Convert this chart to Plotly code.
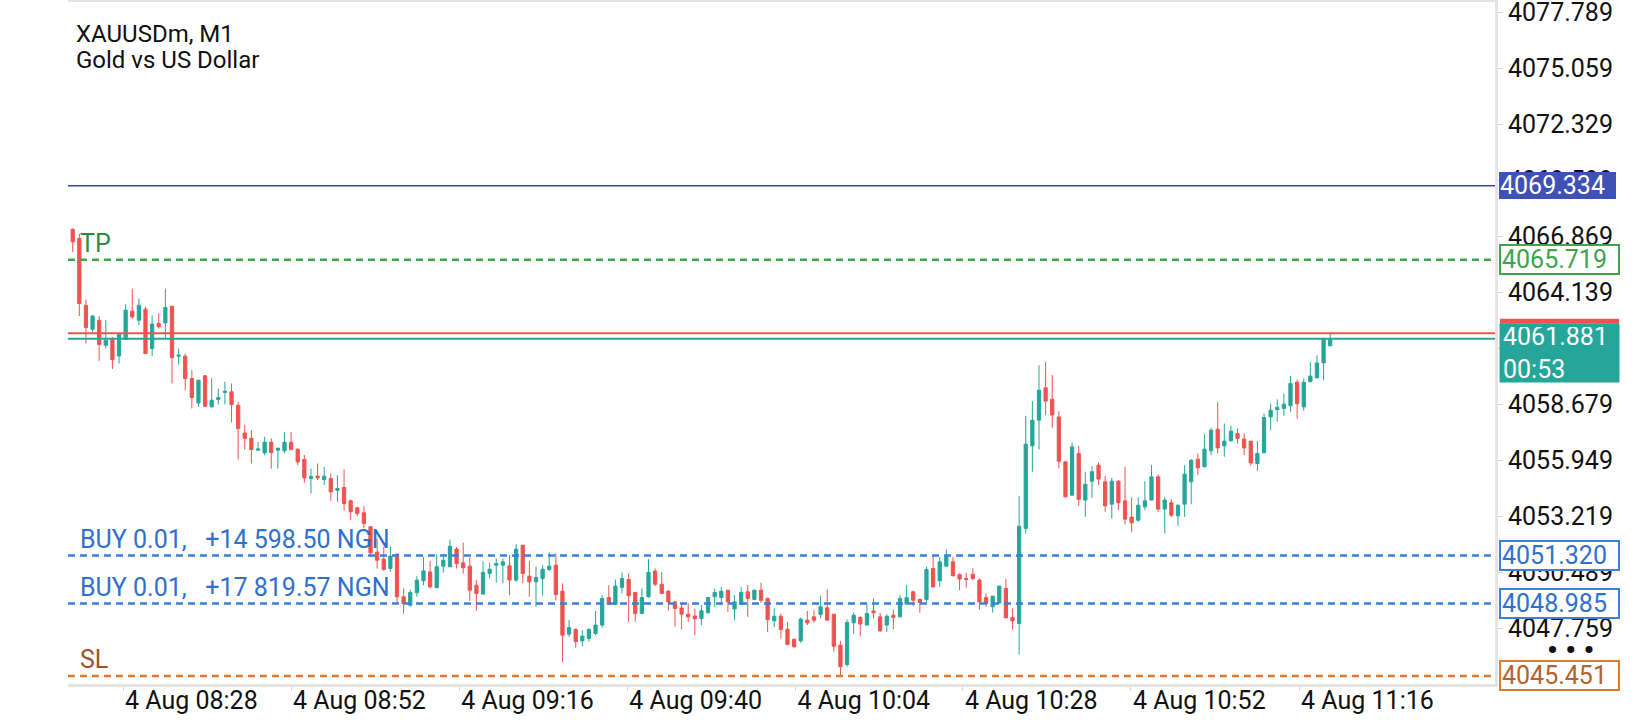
import plotly.graph_objects as go

# XAUUSDm M1 candles (bar index 0 = first visible bar)
opens = [4067.21, 4066.76, 4063.51, 4062.34, 4062.78, 4061.56, 4061.89, 4061.04, 4061.84, 4063.22,
         4062.78, 4063.32, 4061.40, 4062.62, 4062.65, 4063.46, 4061.03, 4061.03, 4059.94, 4058.75,
         4060.07, 4058.56, 4058.92, 4059.26, 4059.29, 4058.64, 4057.29, 4057.03, 4056.45, 4056.32,
         4056.84, 4056.45, 4056.42, 4056.84, 4056.50, 4056.00, 4055.07, 4055.18, 4055.02, 4055.07,
         4054.49, 4054.63, 4053.98, 4053.64, 4053.40, 4052.72, 4051.48, 4051.14, 4050.69, 4051.39,
         4049.31, 4048.90, 4049.50, 4050.09, 4050.52, 4049.76, 4050.80, 4050.77, 4051.63, 4050.96,
         4050.80, 4049.87, 4049.44, 4050.44, 4050.85, 4050.85, 4050.82, 4050.12, 4051.82, 4050.31,
         4050.04, 4050.20, 4050.64, 4050.85, 4049.58, 4047.49, 4047.72, 4047.16, 4047.28, 4047.52,
         4047.93, 4049.27, 4048.93, 4049.76, 4050.15, 4049.52, 4048.50, 4049.31, 4050.56, 4049.92,
         4049.58, 4049.06, 4048.76, 4048.46, 4048.37, 4048.25, 4048.53, 4049.31, 4049.27, 4049.63,
         4048.71, 4048.93, 4049.55, 4049.18, 4049.63, 4049.23, 4048.14, 4048.36, 4047.73, 4047.24,
         4047.16, 4048.17, 4048.33, 4048.45, 4048.77, 4048.46, 4046.95, 4046.01, 4048.04, 4048.30,
         4047.93, 4048.62, 4048.33, 4047.93, 4048.41, 4048.33, 4048.95, 4049.55, 4049.18, 4049.18,
         4050.69, 4050.09, 4050.80, 4051.01, 4050.39, 4050.20, 4050.41, 4050.12, 4049.27, 4048.82,
         4049.01, 4049.71, 4048.30, 4048.01, 4052.64, 4056.66, 4057.91, 4059.49, 4058.93, 4058.07,
         4055.88, 4054.26, 4056.29, 4054.02, 4054.94, 4055.72, 4054.91, 4053.82, 4054.94, 4053.98,
         4053.19, 4053.04, 4053.69, 4054.02, 4055.15, 4053.58, 4053.89, 4053.25, 4053.82, 4054.91,
         4056.01, 4055.64, 4056.42, 4057.47, 4056.66, 4056.91, 4057.26, 4056.99, 4056.89, 4055.80,
         4056.32, 4058.07, 4058.43, 4058.48, 4058.61, 4059.76, 4058.56, 4059.78, 4059.97, 4060.70,
         4061.53]
highs = [4067.25, 4067.00, 4063.79, 4063.03, 4062.98, 4062.78, 4061.97, 4062.16, 4063.56, 4064.32,
         4063.84, 4063.43, 4063.01, 4063.11, 4064.32, 4063.46, 4061.40, 4061.16, 4060.35, 4059.86,
         4060.10, 4059.97, 4059.45, 4059.78, 4059.70, 4058.80, 4057.67, 4057.42, 4056.85, 4057.10,
         4057.02, 4056.55, 4057.32, 4057.34, 4056.53, 4056.21, 4055.56, 4055.80, 4055.64, 4055.31,
         4055.23, 4055.52, 4054.05, 4053.69, 4053.72, 4052.75, 4052.15, 4051.74, 4051.77, 4051.39,
         4049.71, 4049.66, 4050.31, 4051.25, 4051.06, 4051.39, 4051.39, 4052.10, 4051.74, 4051.95,
         4051.22, 4050.12, 4051.04, 4050.96, 4051.17, 4051.17, 4051.34, 4051.87, 4051.82, 4051.06,
         4050.77, 4050.85, 4051.47, 4051.42, 4049.96, 4048.17, 4047.76, 4047.68, 4047.76, 4048.61,
         4049.39, 4049.87, 4050.15, 4050.49, 4050.44, 4049.55, 4049.71, 4051.14, 4050.69, 4050.52,
         4049.63, 4049.11, 4048.98, 4049.01, 4048.74, 4048.90, 4049.31, 4049.71, 4049.79, 4049.63,
         4049.39, 4049.79, 4049.88, 4049.66, 4049.99, 4049.27, 4048.74, 4048.49, 4048.09, 4047.28,
         4048.30, 4048.62, 4048.66, 4049.34, 4049.68, 4048.46, 4047.16, 4048.20, 4048.54, 4048.36,
         4048.95, 4049.23, 4048.53, 4048.46, 4048.69, 4049.39, 4049.88, 4049.60, 4049.23, 4050.77,
         4051.29, 4051.25, 4051.63, 4051.25, 4050.44, 4050.48, 4050.69, 4050.20, 4049.47, 4049.34,
         4049.83, 4050.17, 4048.74, 4054.21, 4058.12, 4058.84, 4060.59, 4060.75, 4060.10, 4058.35,
         4055.91, 4056.82, 4056.66, 4055.40, 4055.67, 4055.85, 4055.19, 4055.10, 4054.99, 4055.64,
         4054.15, 4054.15, 4054.94, 4055.72, 4055.28, 4054.18, 4054.06, 4053.80, 4055.72, 4056.01,
         4056.29, 4057.23, 4057.55, 4058.79, 4057.75, 4057.65, 4057.51, 4057.26, 4056.89, 4056.89,
         4058.24, 4058.72, 4058.92, 4059.21, 4060.07, 4059.89, 4059.94, 4060.75, 4061.08, 4061.89,
         4062.18]
lows = [4066.11, 4062.98, 4061.64, 4062.21, 4060.80, 4061.40, 4060.41, 4060.67, 4061.84, 4062.86,
        4062.54, 4061.16, 4061.04, 4062.37, 4061.84, 4059.70, 4060.62, 4059.37, 4058.48, 4058.56,
        4058.56, 4058.53, 4058.67, 4058.67, 4057.80, 4055.99, 4056.48, 4055.80, 4056.42, 4056.20,
        4055.55, 4055.55, 4056.29, 4056.45, 4055.72, 4054.86, 4054.34, 4054.99, 4054.75, 4053.98,
        4053.93, 4053.53, 4053.04, 4053.24, 4052.64, 4051.25, 4050.69, 4050.57, 4050.52, 4048.95,
        4048.49, 4048.82, 4049.31, 4049.87, 4049.71, 4049.71, 4050.48, 4050.77, 4050.69, 4050.44,
        4049.11, 4048.62, 4049.44, 4050.20, 4049.99, 4049.96, 4049.39, 4050.04, 4049.96, 4049.31,
        4048.82, 4049.36, 4050.57, 4049.14, 4046.14, 4047.36, 4046.82, 4046.90, 4047.12, 4047.44,
        4047.81, 4048.93, 4048.90, 4049.47, 4048.09, 4048.09, 4048.46, 4049.27, 4049.83, 4049.44,
        4048.63, 4047.85, 4047.72, 4048.09, 4047.44, 4047.93, 4048.50, 4048.82, 4048.90, 4048.58,
        4048.17, 4048.93, 4048.33, 4049.14, 4049.01, 4047.60, 4047.84, 4047.28, 4046.95, 4046.84,
        4047.07, 4047.93, 4048.04, 4048.25, 4048.17, 4046.63, 4045.46, 4045.90, 4047.49, 4047.39,
        4047.93, 4048.25, 4047.60, 4047.60, 4047.73, 4048.33, 4048.95, 4048.85, 4048.53, 4049.06,
        4049.76, 4049.79, 4050.80, 4050.31, 4049.63, 4049.76, 4050.12, 4048.69, 4048.82, 4048.54,
        4048.98, 4048.28, 4047.71, 4046.50, 4052.39, 4055.40, 4056.48, 4058.16, 4057.54, 4055.56,
        4054.13, 4054.23, 4053.74, 4053.20, 4054.13, 4054.75, 4053.45, 4053.12, 4053.53, 4052.83,
        4052.47, 4052.96, 4053.53, 4054.02, 4053.45, 4052.39, 4053.20, 4052.77, 4053.20, 4053.82,
        4055.23, 4055.61, 4056.21, 4056.29, 4056.13, 4056.86, 4056.78, 4056.21, 4055.69, 4055.44,
        4056.32, 4057.42, 4057.83, 4058.12, 4058.32, 4057.98, 4058.37, 4059.78, 4059.97, 4059.86,
        4061.53]
closes = [4066.60, 4063.59, 4062.42, 4062.98, 4061.60, 4061.81, 4060.86, 4062.10, 4063.27, 4062.94,
          4063.51, 4061.16, 4062.59, 4062.46, 4063.40, 4060.96, 4061.08, 4059.94, 4059.01, 4059.86,
          4058.59, 4058.88, 4059.01, 4059.32, 4058.67, 4057.50, 4057.02, 4056.48, 4056.51, 4056.84,
          4056.33, 4056.55, 4056.84, 4056.48, 4055.88, 4055.10, 4055.17, 4055.10, 4055.18, 4054.42,
          4054.58, 4053.85, 4053.45, 4053.37, 4052.88, 4051.45, 4051.09, 4050.64, 4051.29, 4049.31,
          4048.98, 4049.52, 4050.12, 4050.57, 4049.79, 4050.77, 4051.09, 4051.77, 4050.93, 4050.72,
          4049.63, 4049.47, 4050.49, 4050.65, 4050.93, 4051.01, 4050.12, 4051.63, 4050.44, 4050.04,
          4050.25, 4050.65, 4050.80, 4049.42, 4047.44, 4047.81, 4047.12, 4047.39, 4047.72, 4047.93,
          4049.23, 4048.93, 4049.83, 4050.20, 4049.36, 4048.50, 4049.27, 4050.49, 4049.92, 4049.47,
          4049.06, 4048.74, 4048.46, 4048.33, 4048.24, 4048.63, 4049.27, 4049.52, 4049.58, 4049.06,
          4049.06, 4049.52, 4049.23, 4049.63, 4049.14, 4048.20, 4048.36, 4047.71, 4046.99, 4046.87,
          4048.22, 4048.04, 4048.17, 4048.82, 4048.17, 4046.90, 4045.90, 4048.06, 4048.41, 4047.98,
          4048.49, 4048.53, 4047.65, 4048.36, 4048.30, 4049.23, 4049.27, 4049.14, 4049.03, 4050.64,
          4049.79, 4051.01, 4051.25, 4050.33, 4050.17, 4050.15, 4050.20, 4049.06, 4048.98, 4049.34,
          4049.83, 4048.28, 4048.14, 4052.75, 4056.74, 4057.91, 4059.37, 4058.84, 4058.16, 4055.91,
          4054.18, 4056.61, 4054.06, 4054.79, 4055.40, 4055.04, 4053.74, 4054.94, 4053.89, 4053.09,
          4052.91, 4053.77, 4053.98, 4055.15, 4053.58, 4054.02, 4053.28, 4053.77, 4055.28, 4055.96,
          4055.59, 4056.50, 4057.42, 4056.56, 4056.89, 4057.38, 4057.02, 4056.56, 4055.83, 4056.29,
          4058.04, 4058.40, 4058.54, 4058.69, 4059.70, 4058.71, 4059.76, 4060.06, 4060.70, 4061.89,
          4061.88]
bars = list(range(len(opens)))

# time axis labels and the bar index they sit on
tick_labels = ["4 Aug 08:28", "4 Aug 08:52", "4 Aug 09:16", "4 Aug 09:40",
               "4 Aug 10:04", "4 Aug 10:28", "4 Aug 10:52", "4 Aug 11:16"]
tick_bars = [7.6, 33.0, 58.4, 83.8, 109.2, 134.5, 159.9, 185.3]

# price scale ticks
price_ticks = [4047.759, 4050.489, 4053.219, 4055.949, 4058.679, 4061.409,
               4064.139, 4066.869, 4069.599, 4072.329, 4075.059, 4077.789]

# price levels
alert_level = 4069.334
tp_level = 4065.719
ask_price = 4062.14
bid_price = 4061.881
buy_levels = [4051.320, 4048.985]
buy_texts = ["BUY 0.01,\u00a0\u00a0\u00a0+14 598.50 NGN", "BUY 0.01,\u00a0\u00a0\u00a0+17 819.57 NGN"]
sl_level = 4045.451
countdown = "00:53"

UP = "#26a69a"
DOWN = "#ef5350"
FONT = "Roboto"

fig = go.Figure(go.Candlestick(
    x=bars, open=opens, high=highs, low=lows, close=closes,
    increasing=dict(line=dict(color=UP, width=1), fillcolor=UP),
    decreasing=dict(line=dict(color=DOWN, width=1), fillcolor=DOWN),
    whiskerwidth=0, showlegend=False,
))

def hline(y, color, width, dash="solid"):
    fig.add_shape(type="line", xref="paper", x0=0, x1=1, yref="y", y0=y, y1=y,
                  line=dict(color=color, width=width, dash=dash), layer="above")

hline(alert_level, "#3949ab", 1.5)
hline(tp_level, "#3fa34d", 2.5, "7px,5px")
hline(ask_price, DOWN, 2)
hline(bid_price, UP, 2)
for lv in buy_levels:
    hline(lv, "#3b7fe0", 2.5, "7px,5px")
hline(sl_level, "#e07b2a", 2.5, "7px,5px")

def price_box(y, text, fg, bg, border, bw=2):
    fig.add_annotation(xref="paper", x=1, xanchor="left", xshift=4, yref="y", y=y,
                       yanchor="middle", text=text, showarrow=False, align="left",
                       font=dict(family=FONT, size=25, color=fg), bgcolor=bg,
                       bordercolor=border, borderwidth=bw, borderpad=1, width=115, height=25)

price_box(alert_level, f"{alert_level:.3f}", "white", "#3f51b5", "#3f51b5", 0)
price_box(tp_level, f"{tp_level:.3f}", "#3fa34d", "white", "#3fa34d")
for lv in buy_levels:
    price_box(lv, f"{lv:.3f}", "#2f6fd0", "white", "#3b7fe0")
price_box(sl_level, f"{sl_level:.3f}", "#b5622b", "white", "#e07b2a")

# current price box with countdown
fig.add_annotation(xref="paper", x=1, xanchor="left", xshift=4, yref="y", y=bid_price,
                   yanchor="top", yshift=16, text=f"{bid_price:.3f}<br>{countdown}",
                   showarrow=False, align="left", font=dict(family=FONT, size=25, color="white"),
                   bgcolor=UP, borderpad=3, width=113, height=52)
fig.add_shape(type="rect", xref="paper", x0=1.0035, x1=1.0869, yref="y", ysizemode="pixel",
              yanchor=bid_price, y0=15, y1=20, fillcolor=DOWN, line=dict(width=0), layer="above")

# "more" menu dots under the price scale
fig.add_annotation(xref="paper", x=1, xanchor="center", xshift=75, yref="paper", y=0.05,
                   yanchor="middle", text="<b>\u2022\u00a0\u2022\u00a0\u2022</b>", showarrow=False,
                   font=dict(family=FONT, size=30, color="#111"))

# in-chart labels
def chart_label(y, text, color):
    fig.add_annotation(xref="paper", x=0, xanchor="left", xshift=10, yref="y", y=y,
                       yanchor="middle", yshift=16, text=text, showarrow=False,
                       font=dict(family=FONT, size=25, color=color))

chart_label(tp_level, "TP", "#2e8b3e")
for lv, t in zip(buy_levels, buy_texts):
    chart_label(lv, t, "#2f6fd0")
chart_label(sl_level, "SL", "#a0522d")

fig.add_annotation(xref="paper", x=0, xanchor="left", xshift=6, yref="paper", y=0.953,
                   yanchor="middle", text="XAUUSDm, M1", showarrow=False,
                   font=dict(family=FONT, size=24, color="#111"))
fig.add_annotation(xref="paper", x=0, xanchor="left", xshift=6, yref="paper", y=0.915,
                   yanchor="middle", text="Gold vs US Dollar", showarrow=False,
                   font=dict(family=FONT, size=24, color="#111"))

fig.update_layout(
    width=1640, height=720,
    margin=dict(l=68, r=145, t=2, b=36),
    paper_bgcolor="white", plot_bgcolor="white",
    font=dict(family=FONT, color="#111"),
    showlegend=False,
    xaxis=dict(range=[-0.71, 214.9], tickvals=tick_bars, ticktext=tick_labels,
               ticklabelposition="outside right", ticks="outside", ticklen=4,
               ticklabelstandoff=-8, ticklabeloverflow="allow",
               tickcolor="#d6d6d6", tickfont=dict(size=25, color="#111"),
               showline=True, linecolor="#e4e4e4", linewidth=3, mirror=True,
               showgrid=False, zeroline=False, automargin=False,
               rangeslider=dict(visible=False)),
    yaxis=dict(side="right", range=[4045.06, 4078.28], tickvals=price_ticks,
               ticktext=[f"{v:.3f}" for v in price_ticks], ticks="outside", ticklen=5,
               ticklabeloverflow="allow",
               tickcolor="#d6d6d6", tickfont=dict(size=25, color="#111"),
               showline=True, linecolor="#e4e4e4", linewidth=3,
               showgrid=False, zeroline=False, automargin=False),
)

# the page body has a default margin; drop it so the figure sits at the window corner
fig.write_html("out.html", config={"displayModeBar": False},
               post_script="document.body.style.margin='0';")
